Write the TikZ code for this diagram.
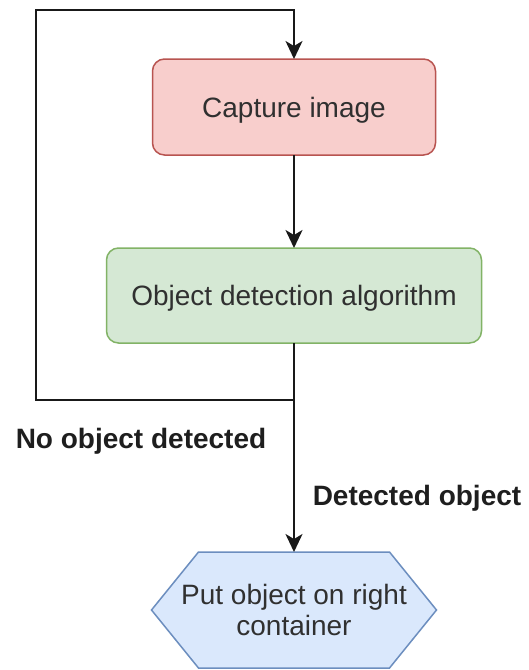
\documentclass[tikz,border=0pt]{standalone}
\usepackage{fontspec}
\setmainfont{Liberation Sans}
\usetikzlibrary{arrows.meta,backgrounds}

\definecolor{redfill}{HTML}{F8CECC}
\definecolor{redline}{HTML}{B85450}
\definecolor{greenfill}{HTML}{D5E8D4}
\definecolor{greenline}{HTML}{82B366}
\definecolor{bluefill}{HTML}{DAE8FC}
\definecolor{blueline}{HTML}{6C8EBF}
\definecolor{boxtext}{HTML}{303030}
\definecolor{labeltext}{HTML}{1E1E1E}

\tikzset{
  stepbox/.style={rectangle, rounded corners=12pt, line width=1.5pt,
    text=boxtext, font=\fontsize{28}{31}\selectfont,
    text height=20pt, text depth=0pt, inner sep=0pt, outer sep=0pt},
  hexbox/.style={rectangle, inner sep=0pt, outer sep=0pt, align=center,
    text=boxtext, font=\fontsize{28}{31}\selectfont,
    minimum width=285pt, minimum height=116pt},
  flowlabel/.style={anchor=base, inner sep=0pt, text=labeltext,
    font=\fontsize{28}{31}\selectfont\bfseries},
  flow/.style={line width=2pt, draw=black!90,
    -{Stealth[length=18pt,width=17pt,inset=5pt]}},
}

\begin{document}
\begin{tikzpicture}[x=1pt, y=-1pt]
  \useasboundingbox (0,0) rectangle (529,670);

  % process steps
  \node[stepbox, fill=redfill, draw=redline,
        minimum width=283pt, minimum height=96pt] (cap) at (294,107) {Capture image};
  \node[stepbox, fill=greenfill, draw=greenline,
        minimum width=375pt, minimum height=95pt] (det) at (294,295.5) {Object detection algorithm};

  % final step: hexagon drawn behind its text
  \node[hexbox] (hex) at (294,610) {Put object on right\\container};
  \begin{scope}[on background layer]
    \fill[white] (0,0) rectangle (529,670);
    \draw[fill=bluefill, draw=blueline, line width=1.5pt, line join=miter]
      (hex.west) -- ([xshift=47pt]hex.north west) -- ([xshift=-47pt]hex.north east)
      -- (hex.east) -- ([xshift=-47pt]hex.south east) -- ([xshift=47pt]hex.south west)
      -- cycle;
  \end{scope}

  % loop back when nothing is found
  \coordinate (loopbl) at (36,400);
  \coordinate (looptl) at (36,10);
  \draw[flow] (det.south) |- (loopbl) -- (looptl) -| (cap.north);

  % forward path
  \draw[flow] (cap.south) -- (det.north);
  \draw[flow] (det.south) -- (hex.north);

  % edge labels
  \node[flowlabel] (lno) at (141,448) {No object detected};
  \node[flowlabel] (lyes) at (417,505) {Detected object};
\end{tikzpicture}
\end{document}
